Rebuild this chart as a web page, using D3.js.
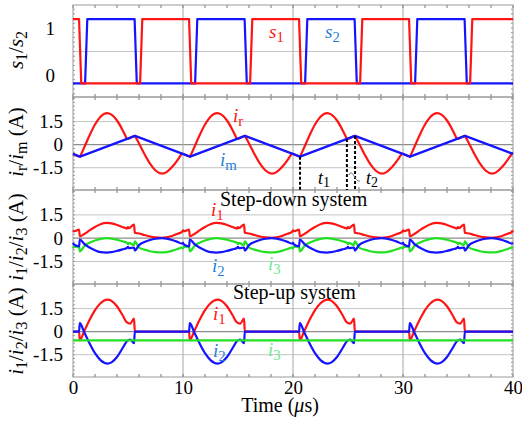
<!DOCTYPE html>
<html><head><meta charset="utf-8">
<script src="https://cdn.jsdelivr.net/npm/d3@7"></script>
<style>
body{margin:0;background:#fff}
svg{display:block}
text{font-family:"Liberation Serif","Times New Roman",serif}
</style>
</head><body>
<svg id="c" width="522" height="423" font-family="Liberation Serif, serif"></svg>
<script>
// ---------------- DATA (time in µs) ----------------
const xTicks = [0, 10, 20, 30, 40];
const sTicks = [0, 1];
const iTicks = [-1.5, 0, 1.5];

// gate signals s1 / s2 (drawn levels)
const s1 = [[0,1.19],[0.55,1.19],[0.75,-0.18],[6.1,-0.18],[6.3,1.19],[10.55,1.19],[10.75,-0.18],[16.1,-0.18],[16.3,1.19],[20.55,1.19],[20.75,-0.18],[26.1,-0.18],[26.3,1.19],[30.55,1.19],[30.75,-0.18],[36.1,-0.18],[36.3,1.19],[40,1.19]];
const s2 = [[0,-0.18],[1.1,-0.18],[1.3,1.19],[5.6,1.19],[5.8,-0.18],[11.1,-0.18],[11.3,1.19],[15.6,1.19],[15.8,-0.18],[21.1,-0.18],[21.3,1.19],[25.6,1.19],[25.8,-0.18],[31.1,-0.18],[31.3,1.19],[35.6,1.19],[35.8,-0.18],[40,-0.18]];

// resonant current ir and magnetizing current im (A)
const ir = [[0,-0.6],
 [0.64,-0.78],[0.7,-0.69],[1.0,-0.21],[1.5,0.6],[2.0,1.31],[2.5,1.82],[3.1,2.05],[3.5,1.95],[4.0,1.57],[4.5,0.96],[4.8,0.52],[4.9,0.37],[5.64,0.57],[5.7,0.49],[6.0,0.08],[6.5,-0.62],[7.0,-1.24],[7.5,-1.68],[8.1,-1.88],[8.5,-1.79],[9.0,-1.46],[9.5,-1.0],[9.8,-0.68],[9.9,-0.58],
 [10.64,-0.78],[10.7,-0.69],[11.0,-0.21],[11.5,0.6],[12.0,1.31],[12.5,1.82],[13.1,2.05],[13.5,1.95],[14.0,1.57],[14.5,0.96],[14.8,0.52],[14.9,0.37],[15.64,0.57],[15.7,0.49],[16.0,0.08],[16.5,-0.62],[17.0,-1.24],[17.5,-1.68],[18.1,-1.88],[18.5,-1.79],[19.0,-1.46],[19.5,-1.0],[19.8,-0.68],[19.9,-0.58],
 [20.64,-0.78],[20.7,-0.69],[21.0,-0.21],[21.5,0.6],[22.0,1.31],[22.5,1.82],[23.1,2.05],[23.5,1.95],[24.0,1.57],[24.5,0.96],[24.8,0.52],[24.9,0.37],[25.64,0.57],[25.7,0.49],[26.0,0.08],[26.5,-0.62],[27.0,-1.24],[27.5,-1.68],[28.1,-1.88],[28.5,-1.79],[29.0,-1.46],[29.5,-1.0],[29.8,-0.68],[29.9,-0.58],
 [30.64,-0.78],[30.7,-0.69],[31.0,-0.21],[31.5,0.6],[32.0,1.31],[32.5,1.82],[33.1,2.05],[33.5,1.95],[34.0,1.57],[34.5,0.96],[34.8,0.52],[34.9,0.37],[35.64,0.57],[35.7,0.49],[36.0,0.08],[36.5,-0.62],[37.0,-1.24],[37.5,-1.68],[38.1,-1.88],[38.5,-1.79],[39.0,-1.46],[39.5,-1.0],[39.8,-0.68],[39.9,-0.58],
 [40,-0.6]];
const im = [[0,-0.6],[0.64,-0.78],[5.64,0.57],[10.64,-0.78],[15.64,0.57],[20.64,-0.78],[25.64,0.57],[30.64,-0.78],[35.64,0.57],[40,-0.6]];

// t1 / t2 markers (time, current at the marker)
const markT = [20.64, 24.9, 25.64];
const markV = [-0.78, 0.37, 0.57];

// step-down system currents
const sd1 = [[0,0.5],[0.08,0.45],[0.55,0.55],
 [0.62,0.12],[1.1,0.3],[1.5,0.5],[2.0,0.72],[2.5,0.9],[3.06,0.98],[3.5,0.95],[4.0,0.85],[4.5,0.72],[4.9,0.62],[5.0,0.72],[5.08,0.64],[5.55,0.88],[5.62,0.35],[6.0,0.3],[6.5,0.2],[7.0,0.11],[7.5,0.05],[8.06,0.02],[8.5,0.05],[9.0,0.14],[9.5,0.28],[9.9,0.4],[10.0,0.5],[10.08,0.45],[10.55,0.55],
 [10.62,0.12],[11.1,0.3],[11.5,0.5],[12.0,0.72],[12.5,0.9],[13.06,0.98],[13.5,0.95],[14.0,0.85],[14.5,0.72],[14.9,0.62],[15.0,0.72],[15.08,0.64],[15.55,0.88],[15.62,0.35],[16.0,0.3],[16.5,0.2],[17.0,0.11],[17.5,0.05],[18.06,0.02],[18.5,0.05],[19.0,0.14],[19.5,0.28],[19.9,0.4],[20.0,0.5],[20.08,0.45],[20.55,0.55],
 [20.62,0.12],[21.1,0.3],[21.5,0.5],[22.0,0.72],[22.5,0.9],[23.06,0.98],[23.5,0.95],[24.0,0.85],[24.5,0.72],[24.9,0.62],[25.0,0.72],[25.08,0.64],[25.55,0.88],[25.62,0.35],[26.0,0.3],[26.5,0.2],[27.0,0.11],[27.5,0.05],[28.06,0.02],[28.5,0.05],[29.0,0.14],[29.5,0.28],[29.9,0.4],[30.0,0.5],[30.08,0.45],[30.55,0.55],
 [30.62,0.12],[31.1,0.3],[31.5,0.5],[32.0,0.72],[32.5,0.9],[33.06,0.98],[33.5,0.95],[34.0,0.85],[34.5,0.72],[34.9,0.62],[35.0,0.72],[35.08,0.64],[35.55,0.88],[35.62,0.35],[36.0,0.3],[36.5,0.2],[37.0,0.11],[37.5,0.05],[38.06,0.02],[38.5,0.05],[39.0,0.14],[39.5,0.28],[39.9,0.4],[40,0.5]];
const sd2 = [[0,-0.3],[0.08,-0.4],[0.55,-0.53],
 [0.62,-0.1],[1.1,-0.42],[1.5,-0.6],[2.0,-0.78],[2.5,-0.9],[3.06,-0.93],[3.5,-0.9],[4.0,-0.82],[4.5,-0.72],[4.9,-0.63],[5.0,-0.56],[5.08,-0.65],[5.55,-0.6],[5.62,-0.8],[6.0,-0.45],[6.5,-0.25],[7.0,-0.12],[7.5,-0.04],[8.06,0.0],[8.5,-0.03],[9.0,-0.12],[9.5,-0.24],[9.9,-0.35],[10.0,-0.3],[10.08,-0.4],[10.55,-0.53],
 [10.62,-0.1],[11.1,-0.42],[11.5,-0.6],[12.0,-0.78],[12.5,-0.9],[13.06,-0.93],[13.5,-0.9],[14.0,-0.82],[14.5,-0.72],[14.9,-0.63],[15.0,-0.56],[15.08,-0.65],[15.55,-0.6],[15.62,-0.8],[16.0,-0.45],[16.5,-0.25],[17.0,-0.12],[17.5,-0.04],[18.06,0.0],[18.5,-0.03],[19.0,-0.12],[19.5,-0.24],[19.9,-0.35],[20.0,-0.3],[20.08,-0.4],[20.55,-0.53],
 [20.62,-0.1],[21.1,-0.42],[21.5,-0.6],[22.0,-0.78],[22.5,-0.9],[23.06,-0.93],[23.5,-0.9],[24.0,-0.82],[24.5,-0.72],[24.9,-0.63],[25.0,-0.56],[25.08,-0.65],[25.55,-0.6],[25.62,-0.8],[26.0,-0.45],[26.5,-0.25],[27.0,-0.12],[27.5,-0.04],[28.06,0.0],[28.5,-0.03],[29.0,-0.12],[29.5,-0.24],[29.9,-0.35],[30.0,-0.3],[30.08,-0.4],[30.55,-0.53],
 [30.62,-0.1],[31.1,-0.42],[31.5,-0.6],[32.0,-0.78],[32.5,-0.9],[33.06,-0.93],[33.5,-0.9],[34.0,-0.82],[34.5,-0.72],[34.9,-0.63],[35.0,-0.56],[35.08,-0.65],[35.55,-0.6],[35.62,-0.8],[36.0,-0.45],[36.5,-0.25],[37.0,-0.12],[37.5,-0.04],[38.06,0.0],[38.5,-0.03],[39.0,-0.12],[39.5,-0.24],[39.9,-0.35],[40,-0.3]];
const sd3 = [[0,-0.66],[0.08,-0.56],[0.55,-0.53],
 [0.62,-0.85],[1.1,-0.45],[1.5,-0.3],[2.0,-0.15],[2.5,-0.05],[3.06,0.0],[3.5,-0.03],[4.0,-0.1],[4.5,-0.2],[4.9,-0.3],[5.0,-0.38],[5.08,-0.3],[5.55,-0.45],[5.62,-0.2],[6.0,-0.6],[6.5,-0.74],[7.0,-0.84],[7.5,-0.9],[8.06,-0.92],[8.5,-0.9],[9.0,-0.82],[9.5,-0.7],[9.9,-0.6],[10.0,-0.66],[10.08,-0.56],[10.55,-0.53],
 [10.62,-0.85],[11.1,-0.45],[11.5,-0.3],[12.0,-0.15],[12.5,-0.05],[13.06,0.0],[13.5,-0.03],[14.0,-0.1],[14.5,-0.2],[14.9,-0.3],[15.0,-0.38],[15.08,-0.3],[15.55,-0.45],[15.62,-0.2],[16.0,-0.6],[16.5,-0.74],[17.0,-0.84],[17.5,-0.9],[18.06,-0.92],[18.5,-0.9],[19.0,-0.82],[19.5,-0.7],[19.9,-0.6],[20.0,-0.66],[20.08,-0.56],[20.55,-0.53],
 [20.62,-0.85],[21.1,-0.45],[21.5,-0.3],[22.0,-0.15],[22.5,-0.05],[23.06,0.0],[23.5,-0.03],[24.0,-0.1],[24.5,-0.2],[24.9,-0.3],[25.0,-0.38],[25.08,-0.3],[25.55,-0.45],[25.62,-0.2],[26.0,-0.6],[26.5,-0.74],[27.0,-0.84],[27.5,-0.9],[28.06,-0.92],[28.5,-0.9],[29.0,-0.82],[29.5,-0.7],[29.9,-0.6],[30.0,-0.66],[30.08,-0.56],[30.55,-0.53],
 [30.62,-0.85],[31.1,-0.45],[31.5,-0.3],[32.0,-0.15],[32.5,-0.05],[33.06,0.0],[33.5,-0.03],[34.0,-0.1],[34.5,-0.2],[34.9,-0.3],[35.0,-0.38],[35.08,-0.3],[35.55,-0.45],[35.62,-0.2],[36.0,-0.6],[36.5,-0.74],[37.0,-0.84],[37.5,-0.9],[38.06,-0.92],[38.5,-0.9],[39.0,-0.82],[39.5,-0.7],[39.9,-0.6],[40,-0.66]];

// step-up system currents
const su1 = [[0,0],
 [0.55,0],[0.62,-0.55],[1.0,0.0],[1.5,0.75],[2.0,1.4],[2.5,1.85],[3.15,2.08],[3.5,2.0],[4.0,1.65],[4.5,1.08],[4.9,0.6],[5.2,0.52],[5.55,0.85],[5.62,0.0],
 [10.55,0],[10.62,-0.55],[11.0,0.0],[11.5,0.75],[12.0,1.4],[12.5,1.85],[13.15,2.08],[13.5,2.0],[14.0,1.65],[14.5,1.08],[14.9,0.6],[15.2,0.52],[15.55,0.85],[15.62,0.0],
 [20.55,0],[20.62,-0.55],[21.0,0.0],[21.5,0.75],[22.0,1.4],[22.5,1.85],[23.15,2.08],[23.5,2.0],[24.0,1.65],[24.5,1.08],[24.9,0.6],[25.2,0.52],[25.55,0.85],[25.62,0.0],
 [30.55,0],[30.62,-0.55],[31.0,0.0],[31.5,0.75],[32.0,1.4],[32.5,1.85],[33.15,2.08],[33.5,2.0],[34.0,1.65],[34.5,1.08],[34.9,0.6],[35.2,0.52],[35.55,0.85],[35.62,0.0],
 [40,0]];
const su2 = [[0,0],
 [0.55,0],[0.62,0.55],[1.0,0.0],[1.5,-0.75],[2.0,-1.4],[2.5,-1.85],[3.15,-2.08],[3.5,-2.0],[4.0,-1.65],[4.5,-1.08],[4.9,-0.62],[5.2,-0.52],[5.55,-0.75],[5.62,0.0],
 [10.55,0],[10.62,0.55],[11.0,0.0],[11.5,-0.75],[12.0,-1.4],[12.5,-1.85],[13.15,-2.08],[13.5,-2.0],[14.0,-1.65],[14.5,-1.08],[14.9,-0.62],[15.2,-0.52],[15.55,-0.75],[15.62,0.0],
 [20.55,0],[20.62,0.55],[21.0,0.0],[21.5,-0.75],[22.0,-1.4],[22.5,-1.85],[23.15,-2.08],[23.5,-2.0],[24.0,-1.65],[24.5,-1.08],[24.9,-0.62],[25.2,-0.52],[25.55,-0.75],[25.62,0.0],
 [30.55,0],[30.62,0.55],[31.0,0.0],[31.5,-0.75],[32.0,-1.4],[32.5,-1.85],[33.15,-2.08],[33.5,-2.0],[34.0,-1.65],[34.5,-1.08],[34.9,-0.62],[35.2,-0.52],[35.55,-0.75],[35.62,0.0],
 [40,0]];
const su3 = [[0,-0.57],[40,-0.57]];

// ---------------- DRAWING ----------------
const RED = "#ff1414", BLUE = "#1414ff", GREEN = "#22e022";
const TBLUE = "#1f7fd8", TGREEN = "#6fe890";
const FONT = '"Liberation Serif", "Times New Roman", serif';
const svg = d3.select("#c");
const x = d3.scaleLinear().domain([0, 40]).range([73, 513]);

const panels = [
  {top: 5,   bottom: 97,  domain: [-0.47, 1.49], ticks: sTicks, grid: [0.5], zero: false, pad: 18, minor: 0.1},
  {top: 97,  bottom: 190, domain: [-2.95, 3.1],  ticks: iTicks, grid: [-1.5, 1.5], zero: true, pad: 10, minor: 0.25},
  {top: 190, bottom: 284, domain: [-2.95, 3.1],  ticks: iTicks, grid: [-1.5, 1.5], zero: true, pad: 10, minor: 0.25},
  {top: 284, bottom: 377, domain: [-2.95, 3.1],  ticks: iTicks, grid: [-1.5, 1.5], zero: true, pad: 10, minor: 0.25}
];
panels.forEach(p => { p.y = d3.scaleLinear().domain(p.domain).range([p.bottom, p.top]); });

const gGrid = svg.append("g");
panels.forEach(p => {
  p.grid.forEach(v => gGrid.append("line").attr("x1", x(0)).attr("x2", x(40))
    .attr("y1", p.y(v)).attr("y2", p.y(v)).attr("stroke", "#c4c4c4").attr("stroke-width", 1));
  if (p.zero) gGrid.append("line").attr("x1", x(0)).attr("x2", x(40))
    .attr("y1", p.y(0)).attr("y2", p.y(0)).attr("stroke", "#8c8c8c").attr("stroke-width", 1.2);
  [10, 20, 30].forEach(t => gGrid.append("line").attr("x1", x(t)).attr("x2", x(t))
    .attr("y1", p.top).attr("y2", p.bottom).attr("stroke", "#a8a8a8").attr("stroke-width", 1));
  d3.range(0, 41, 2).forEach(t => {
    gGrid.append("line").attr("x1", x(t)).attr("x2", x(t)).attr("y1", p.top).attr("y2", p.top + 3).attr("stroke", "#777");
    gGrid.append("line").attr("x1", x(t)).attr("x2", x(t)).attr("y1", p.bottom).attr("y2", p.bottom - 3).attr("stroke", "#777");
  });
  const lo = Math.ceil(p.domain[0] / p.minor) * p.minor;
  d3.range(lo, p.domain[1], p.minor).forEach(v => {
    gGrid.append("line").attr("x1", x(0)).attr("x2", x(0) + 2).attr("y1", p.y(v)).attr("y2", p.y(v)).attr("stroke", "#999");
    gGrid.append("line").attr("x1", x(40)).attr("x2", x(40) - 2).attr("y1", p.y(v)).attr("y2", p.y(v)).attr("stroke", "#999");
  });
  gGrid.append("rect").attr("x", x(0)).attr("y", p.top).attr("width", x(40) - x(0))
    .attr("height", p.bottom - p.top).attr("fill", "none").attr("stroke", "#9a9a9a").attr("stroke-width", 1);
  const ax = svg.append("g").attr("transform", `translate(${x(0)},0)`)
    .call(d3.axisLeft(p.y).tickValues(p.ticks).tickSize(0).tickPadding(p.pad).tickFormat(d => String(d)));
  ax.attr("font-family", null).attr("font-size", null);
  ax.select(".domain").remove();
  ax.selectAll("text").attr("font-size", 19).attr("fill", "#000").style("font-family", FONT);
});

const xa = svg.append("g").attr("transform", `translate(0,${panels[3].bottom})`)
  .call(d3.axisBottom(x).tickValues(xTicks).tickSize(0).tickPadding(3));
xa.attr("font-family", null).attr("font-size", null);
xa.select(".domain").remove();
xa.selectAll("text").attr("font-size", 19).attr("fill", "#000").style("font-family", FONT);

function drawLine(p, data, color, curve) {
  svg.append("path").datum(data)
    .attr("fill", "none").attr("stroke", color).attr("stroke-width", 2.2)
    .attr("stroke-linejoin", "round")
    .attr("d", d3.line().x(d => x(d[0])).y(d => p.y(d[1])).curve(curve || d3.curveMonotoneX));
}
const [P1, P2, P3, P4] = panels;
drawLine(P1, s2, BLUE, d3.curveLinear);
drawLine(P1, s1, RED, d3.curveLinear);

drawLine(P2, ir, RED);
drawLine(P2, im, BLUE, d3.curveLinear);

drawLine(P3, sd1, RED);
drawLine(P3, sd3, GREEN);
drawLine(P3, sd2, BLUE);

drawLine(P4, su1, RED);
drawLine(P4, su2, BLUE);
drawLine(P4, su3, GREEN, d3.curveLinear);

markT.forEach((t, i) => svg.append("line")
  .attr("x1", x(t)).attr("x2", x(t)).attr("y1", P2.y(markV[i])).attr("y2", P2.bottom)
  .attr("stroke", "#000").attr("stroke-width", 2).attr("stroke-dasharray", "3,2"));

function subLabel(xp, yp, main, sub, color, size, dy) {
  const t = svg.append("text").attr("x", xp).attr("y", yp).attr("font-size", size || 19).attr("fill", color);
  t.append("tspan").attr("font-style", "italic").text(main);
  t.append("tspan").attr("font-size", (size || 19) * 0.78).attr("dy", dy == null ? 4 : dy).text(sub);
  return t;
}
subLabel(269, 38, "s", "1", RED);
subLabel(325, 38, "s", "2", TBLUE);
subLabel(233, 122, "i", "r", RED);
subLabel(220, 166, "i", "m", TBLUE);
subLabel(318, 184, "t", "1", "#000", 18, 3);
subLabel(366, 184, "t", "2", "#000", 18, 3);
svg.append("path").attr("d", "M349,175 Q351,170 354,176 T360,181").attr("fill", "none").attr("stroke", "#777").attr("stroke-width", 1);

svg.append("text").attr("x", 220).attr("y", 206).attr("font-size", 20).attr("fill", "#000").text("Step-down system");
subLabel(211, 216, "i", "1", RED);
subLabel(212, 272, "i", "2", TBLUE);
subLabel(268, 270, "i", "3", TGREEN);

svg.append("text").attr("x", 233).attr("y", 299).attr("font-size", 20).attr("fill", "#000").text("Step-up system");
subLabel(213, 320, "i", "1", RED);
subLabel(213, 357, "i", "2", TBLUE);
subLabel(268, 356, "i", "3", TGREEN);

const xt = svg.append("text").attr("x", 280).attr("y", 412).attr("text-anchor", "middle").attr("font-size", 20);
xt.append("tspan").text("Time (");
xt.append("tspan").attr("font-style", "italic").text("μ");
xt.append("tspan").text("s)");

function yTitle(yc, parts) {
  const t = svg.append("text").attr("transform", `translate(23,${yc}) rotate(-90)`)
    .attr("text-anchor", "middle").attr("font-size", 21).attr("fill", "#000");
  parts.forEach(([txt, kind]) => {
    const s = t.append("tspan").text(txt);
    if (kind === "i") s.attr("font-style", "italic");
    if (kind === "sub") s.attr("font-size", 16).attr("dy", 4);
    if (kind === "up") s.attr("dy", -4);
  });
}
yTitle(50, [["s","i"],["1","sub"],["/","up"],["s","i"],["2","sub"]]);
yTitle(142, [["i","i"],["r","sub"],["/","up"],["i","i"],["m","sub"],[" (A)","up"]]);
yTitle(237, [["i","i"],["1","sub"],["/","up"],["i","i"],["2","sub"],["/","up"],["i","i"],["3","sub"],[" (A)","up"]]);
yTitle(331, [["i","i"],["1","sub"],["/","up"],["i","i"],["2","sub"],["/","up"],["i","i"],["3","sub"],[" (A)","up"]]);
</script>
</body></html>
